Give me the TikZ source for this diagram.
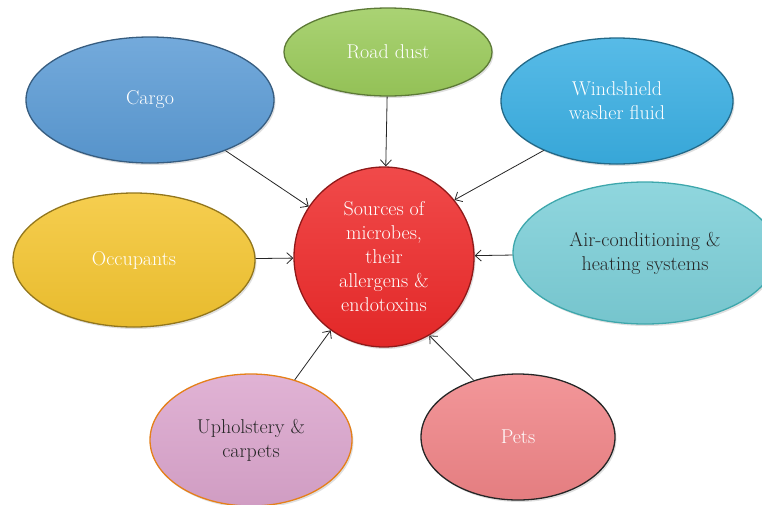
\documentclass[tikz,border=0pt]{standalone}
\usepackage{tikz}
\usetikzlibrary{shapes.geometric,shadows,arrows.meta}

\definecolor{cargoblue}{HTML}{5B9BD5}
\definecolor{dustgreen}{HTML}{9BCB5B}
\definecolor{washerblue}{HTML}{3AAFE3}
\definecolor{occyellow}{HTML}{F4C530}
\definecolor{acteal}{HTML}{7CCFD8}
\definecolor{upholpink}{HTML}{DBA5CD}
\definecolor{petpink}{HTML}{F08487}
\definecolor{srcred}{HTML}{EE2A2A}

\newcommand\bubblefont{\fontsize{20}{24}\selectfont}

\tikzset{
  bubble/.style={ellipse, inner sep=0pt, line width=1.3pt, draw=#1!60!black,
    top color=#1!85!white, bottom color=#1!95!black, align=center, font=\bubblefont,
    drop shadow={opacity=0.25, shadow xshift=1.5pt, shadow yshift=-2pt}},
  feed/.style={-{Straight Barb[length=6pt,width=11pt]}, line width=0.8pt, black!85},
}

\begin{document}
\begin{tikzpicture}[x=1pt, y=-1pt]

  \useasboundingbox (0,0) rectangle (762,504);
  \clip (0,0) rectangle (762,504);

  % ---------- centre ----------
  \node[bubble=srcred, circle, minimum size=180pt, text=white] (src) at (384,257)
        {Sources of\\microbes,\\their\\allergens \&\\endotoxins};

  % ---------- sources around it ----------
  \node[bubble=cargoblue, minimum width=248pt, minimum height=126pt, text=white] (cargo) at (150,100) {Cargo};
  \node[bubble=dustgreen, minimum width=208pt, minimum height=88pt, text=white] (dust) at (388,52) {Road dust};
  \node[bubble=washerblue, minimum width=232pt, minimum height=126pt, text=white] (washer) at (617,101) {Windshield\\washer fluid};
  \node[bubble=occyellow, minimum width=242pt, minimum height=134pt, text=white] (occ) at (134,260) {Occupants};
  \node[bubble=acteal, draw=acteal!50!teal, minimum width=264pt, minimum height=142pt, text=black!85] (aircon) at (645,253) {Air-conditioning \&\\heating systems};
  \node[bubble=upholpink, draw=orange!60!brown, minimum width=202pt, minimum height=132pt, text=black!85] (uphol) at (251,440) {Upholstery \&\\carpets};
  \node[bubble=petpink, draw=black!85, minimum width=194pt, minimum height=126pt, text=white] (pets) at (518,437) {Pets};

  % ---------- arrows into the centre ----------
  \draw[feed] (cargo) -- (src);
  \draw[feed] (dust) -- (src);
  \draw[feed] (washer.214) -- (src.39);
  \draw[feed] (occ) -- (src);
  \draw[feed] (aircon) -- (src);
  \draw[feed] (uphol) -- (src);
  \draw[feed] (pets.128) -- (src.300);

\end{tikzpicture}
\end{document}
